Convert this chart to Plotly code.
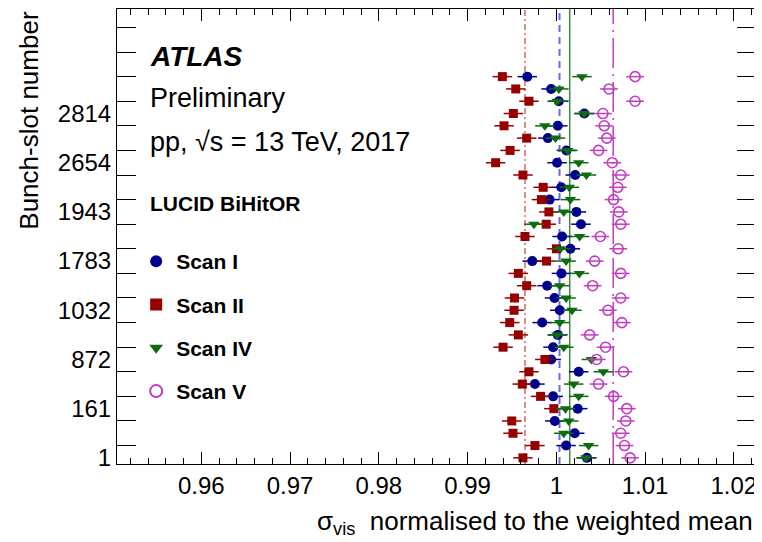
import plotly.graph_objects as go

# ---- data ----
rows = list(range(32))  # row index, bottom = 0
label_rows = [0, 4, 8, 12, 16, 20, 24, 28]
bunch_labels = ["1", "161", "872", "1032", "1783", "1943", "2654", "2814"]

scan_I = [1.00345, 1.00110, 1.00207, 0.99983, 1.00241, 0.99964, 0.99759, 1.00252,
          0.99942, 0.99964, 1.00017, 0.99841, 1.00039, 0.99980, 0.99897, 1.00058,
          0.99729, 1.00159, 1.00065, 1.00278, 1.00226, 0.99924, 1.00056, 1.00213,
          1.00009, 1.00114, 0.99905, 1.00017, 1.00316, 1.00028, 0.99942, 0.99673]
scan_II = [0.99624, 0.99759, 0.99512, 0.99498, 0.99972, 0.99823, 0.99617, 0.99692,
           0.99871, 0.99400, 0.99572, 0.99475, 0.99524, 0.99529, 0.99666, 0.99572,
           0.99890, 1.00002, 0.99647, 0.99886, 0.99916, 0.99832, 0.99852, 0.99624,
           0.99316, 0.99479, 0.99666, 0.99411, 0.99516, 0.99692, 0.99543, 0.99392]
scan_IV = [1.00334, 1.00364, 1.00084, 1.00140, 1.00103, 1.00252, 1.00196, 1.00529,
           1.00395, 1.00084, 1.00009, 1.00039, 1.00177, 1.00110, 1.00039, 1.00260,
           1.00110, 1.00047, 1.00263, 0.99748, 1.00084, 1.00159, 1.00146, 1.00339,
           1.00252, 1.00129, 0.99991, 0.99871, 1.00312, 1.00009, 1.00028, 1.00289]
scan_V = [1.00832, 1.00768, 1.00726, 1.00783, 1.00794, 1.00645, 1.00476, 1.00757,
          1.00454, 1.00555, 1.00376, 1.00738, 1.00581, 1.00726, 1.00409, 1.00726,
          1.00432, 1.00697, 1.00496, 1.00726, 1.00704, 1.00645, 1.00693, 1.00726,
          1.00630, 1.00476, 1.00569, 1.00540, 1.00525, 1.00888, 1.00594, 1.00888]
err_I = [0.0011] * 32
err_II = [0.0011] * 32
err_IV = [0.0011] * 32
err_V = [0.0010] * 32

scan_names = ["Scan I", "Scan II", "Scan IV", "Scan V"]
scan_means = [1.00036, 0.99647, 1.00151, 1.00641]

x_tickvals = [0.96, 0.97, 0.98, 0.99, 1.0, 1.01, 1.02]
x_ticktext = ["0.96", "0.97", "0.98", "0.99", "1", "1.01", "1.02"]

# ---- style ----
FONT = "Liberation Sans, Arial, Helvetica, sans-serif"
colors = ["#00008f", "#960000", "#0f6b0f", "#c23cc2"]
symbols = ["circle", "square", "triangle-down", "circle-open"]
sizes = [10, 9, 10, 10]
mean_dash = ["7px,5px", "6px,3px,2px,3px", "solid", "30px,6px,2px,6px"]
mean_color = ["#6b6bea", "#d04040", "#3c8a3c", "#c23cc2"]
mean_width = [2, 1.2, 1.5, 1.5]

fig = go.Figure()
series = [scan_I, scan_II, scan_IV, scan_V]
errs = [err_I, err_II, err_IV, err_V]
for name, xs, ex, c, s, sz in zip(scan_names, series, errs, colors, symbols, sizes):
    fig.add_trace(go.Scatter(
        x=xs, y=rows, mode="markers", name=name, legendgroup=name,
        marker=dict(color=c, symbol=s, size=sz,
                    line=dict(color=c, width=1.6 if s == "circle-open" else 0)),
        error_x=dict(type="data", array=ex, color=c, thickness=1.5, width=0),
    ))

for m, d, c, w in zip(scan_means, mean_dash, mean_color, mean_width):
    fig.add_shape(type="line", xref="x", yref="paper", x0=m, x1=m, y0=0, y1=1,
                  line=dict(color=c, width=w, dash=d), layer="below")

# page has an 8px body margin: figure sized to fit the 762x542 window
fig.update_layout(
    width=754, height=534,
    margin=dict(l=109, r=6, t=1, b=78, autoexpand=False),
    paper_bgcolor="white", plot_bgcolor="white",
    font=dict(family=FONT, color="black"),
    showlegend=True,
    legend=dict(x=0.030, y=0.490, xanchor="left", yanchor="top",
                bgcolor="rgba(0,0,0,0)", font=dict(size=21, family=FONT, weight="bold"),
                tracegroupgap=13, itemsizing="constant", itemwidth=30),
    xaxis=dict(range=[0.9505, 1.0225], tickvals=x_tickvals, ticktext=x_ticktext,
               automargin=False,
               ticks="inside", ticklen=12, tickcolor="black", tickwidth=1,
               showline=True, linecolor="black", linewidth=1, mirror="ticks",
               showgrid=False, zeroline=False, tickfont=dict(size=24),
               minor=dict(ticks="inside", ticklen=6, dtick=0.002, tick0=0.96,
                          tickcolor="black", showgrid=False)),
    yaxis=dict(range=[-0.5, 36.5], tickvals=label_rows, ticktext=bunch_labels,
               automargin=False,
               ticks="inside", ticklen=1, tickcolor="rgba(0,0,0,0)",
               showline=True, linecolor="black", linewidth=1, mirror="ticks",
               showgrid=False, zeroline=False, tickfont=dict(size=24),
               minor=dict(ticks="inside", ticklen=19, dtick=2, tick0=1,
                          tickcolor="black", showgrid=False)),
)

ann = [
    dict(text="<b><i>ATLAS</i></b>", x=0.048, y=0.8952, size=28),
    dict(text="Preliminary", x=0.048, y=0.805, size=27),
    dict(text="pp, √s = 13 TeV, 2017", x=0.048, y=0.707, size=27),
    dict(text="<b>LUCID BiHitOR</b>", x=0.048, y=0.573, size=21),
]
for a in ann:
    fig.add_annotation(text=a["text"], x=a["x"], y=a["y"], xref="paper", yref="paper",
                       xanchor="left", yanchor="middle", showarrow=False,
                       font=dict(size=a["size"], family=FONT, color="black"))

fig.add_annotation(text="σ<sub>vis</sub>  normalised to the weighted mean",
                   x=1, y=-0.1275, xref="paper", yref="paper", xshift=-1,
                   xanchor="right", yanchor="middle", showarrow=False,
                   font=dict(size=26, family=FONT, color="black"))
fig.add_annotation(text="Bunch-slot number", textangle=-90,
                   x=-0.139, y=1, xref="paper", yref="paper",
                   xanchor="center", yanchor="top", showarrow=False,
                   font=dict(size=26, family=FONT, color="black"))

fig.write_html("out.html")
